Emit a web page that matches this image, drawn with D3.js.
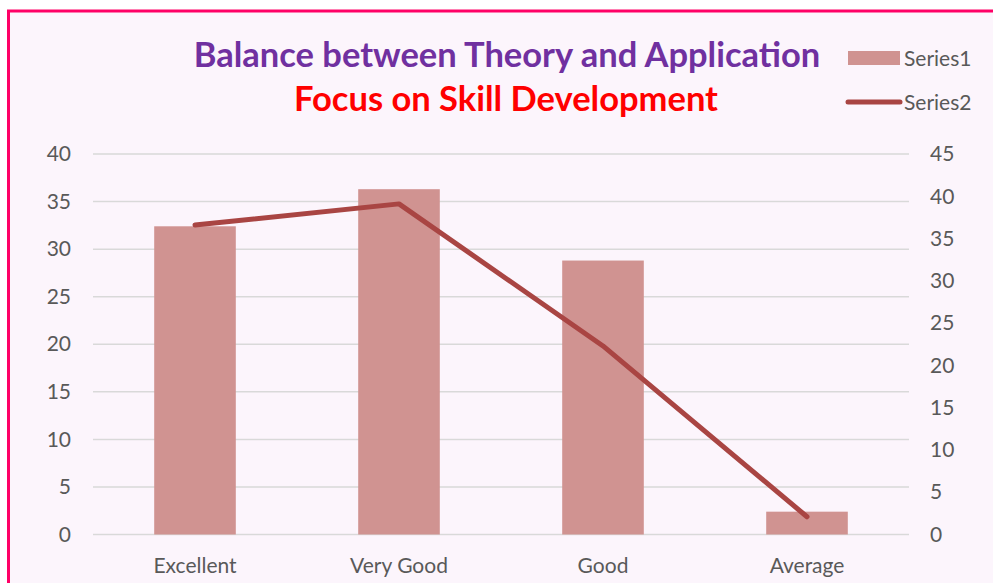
<!DOCTYPE html>
<html>
<head>
<meta charset="utf-8">
<script src="https://cdn.jsdelivr.net/npm/d3@7"></script>
<style>
  body { margin: 0; background: #fff; }
  text { font-family: Lato, "Open Sans", sans-serif; }
</style>
</head>
<body>
<div id="chart"></div>
<script>
// chart data
var categories = ["Excellent", "Very Good", "Good", "Average"];
var series1 = [32.4, 36.3, 28.8, 2.4];
var series2 = [36.6, 39.1, 22.3, 2.1];
var leftTicks = [0, 5, 10, 15, 20, 25, 30, 35, 40];
var rightTicks = [0, 5, 10, 15, 20, 25, 30, 35, 40, 45];

var w = 993, h = 583;
var plotLeft = 93, plotRight = 909, plotTop = 154, plotBottom = 534.5;
var fs = 21;

var svg = d3.select("#chart").append("svg")
    .attr("width", w)
    .attr("height", h);

// background and pink frame
svg.append("rect")
    .attr("x", 8.5).attr("y", 11)
    .attr("width", w + 10).attr("height", h + 10)
    .attr("fill", "#fcf5fc")
    .attr("stroke", "#ff0066")
    .attr("stroke-width", 3);

// scales
var x = d3.scaleBand().domain(categories).range([plotLeft, plotRight]).paddingInner(0.6).paddingOuter(0.3);
var xc = d3.scaleBand().domain(categories).range([plotLeft, plotRight]);
var yL = d3.scaleLinear().domain([0, 40]).range([plotBottom, plotTop]);
var yR = d3.scaleLinear().domain([0, 45]).range([plotBottom, plotTop]);

// gridlines
svg.append("g")
    .selectAll("line")
    .data(leftTicks)
    .join("line")
    .attr("x1", plotLeft).attr("x2", plotRight)
    .attr("y1", function(d) { return yL(d); })
    .attr("y2", function(d) { return yL(d); })
    .attr("stroke", "#d9d9d9")
    .attr("stroke-width", 1.5);

// left axis
var yAxisL = d3.axisLeft(yL).tickValues(leftTicks).tickSize(0).tickPadding(22);
svg.append("g")
    .attr("transform", "translate(" + plotLeft + ",0)")
    .call(yAxisL)
    .call(function(g) { g.select(".domain").remove(); })
    .selectAll("text")
    .attr("font-size", fs)
    .attr("font-family", "Lato, sans-serif")
    .attr("fill", "#595959");

// right axis
var yAxisR = d3.axisRight(yR).tickValues(rightTicks).tickSize(0).tickPadding(21);
svg.append("g")
    .attr("transform", "translate(" + plotRight + ",0)")
    .call(yAxisR)
    .call(function(g) { g.select(".domain").remove(); })
    .selectAll("text")
    .attr("font-size", fs)
    .attr("font-family", "Lato, sans-serif")
    .attr("fill", "#595959");

// category axis
var xAxis = d3.axisBottom(xc).tickSize(0).tickPadding(24);
svg.append("g")
    .attr("transform", "translate(0," + plotBottom + ")")
    .call(xAxis)
    .call(function(g) { g.select(".domain").remove(); })
    .selectAll("text")
    .attr("font-size", fs)
    .attr("font-family", "Lato, sans-serif")
    .attr("fill", "#595959");

// bars
svg.append("g")
    .selectAll("rect")
    .data(series1)
    .join("rect")
    .attr("x", function(d, i) { return x(categories[i]); })
    .attr("y", function(d) { return yL(d); })
    .attr("width", x.bandwidth())
    .attr("height", function(d) { return yL(0) - yL(d); })
    .attr("fill", "#d09391");

// line
var line = d3.line()
    .x(function(d, i) { return xc(categories[i]) + xc.bandwidth() / 2; })
    .y(function(d) { return yR(d); });

svg.append("path")
    .datum(series2)
    .attr("d", line)
    .attr("fill", "none")
    .attr("stroke", "#a94543")
    .attr("stroke-width", 5)
    .attr("stroke-linecap", "round")
    .attr("stroke-linejoin", "round");

// titles
svg.append("text")
    .attr("x", 507).attr("y", 67)
    .attr("text-anchor", "middle")
    .attr("font-size", 34.5)
    .attr("font-weight", "bold")
    .attr("fill", "#7030a0")
    .text("Balance between Theory and Application");

svg.append("text")
    .attr("x", 506).attr("y", 111)
    .attr("text-anchor", "middle")
    .attr("font-size", 34.5)
    .attr("font-weight", "bold")
    .attr("fill", "#ff0000")
    .text("Focus on Skill Development");

// legend
svg.append("rect")
    .attr("x", 848).attr("y", 51)
    .attr("width", 52).attr("height", 14)
    .attr("fill", "#d09391");
svg.append("text")
    .attr("x", 904).attr("y", 66)
    .attr("font-size", fs)
    .attr("fill", "#595959")
    .text("Series1");

svg.append("line")
    .attr("x1", 848).attr("x2", 900)
    .attr("y1", 102).attr("y2", 102)
    .attr("stroke", "#a94543")
    .attr("stroke-width", 5)
    .attr("stroke-linecap", "round");
svg.append("text")
    .attr("x", 904).attr("y", 110)
    .attr("font-size", fs)
    .attr("fill", "#595959")
    .text("Series2");
</script>
</body>
</html>
